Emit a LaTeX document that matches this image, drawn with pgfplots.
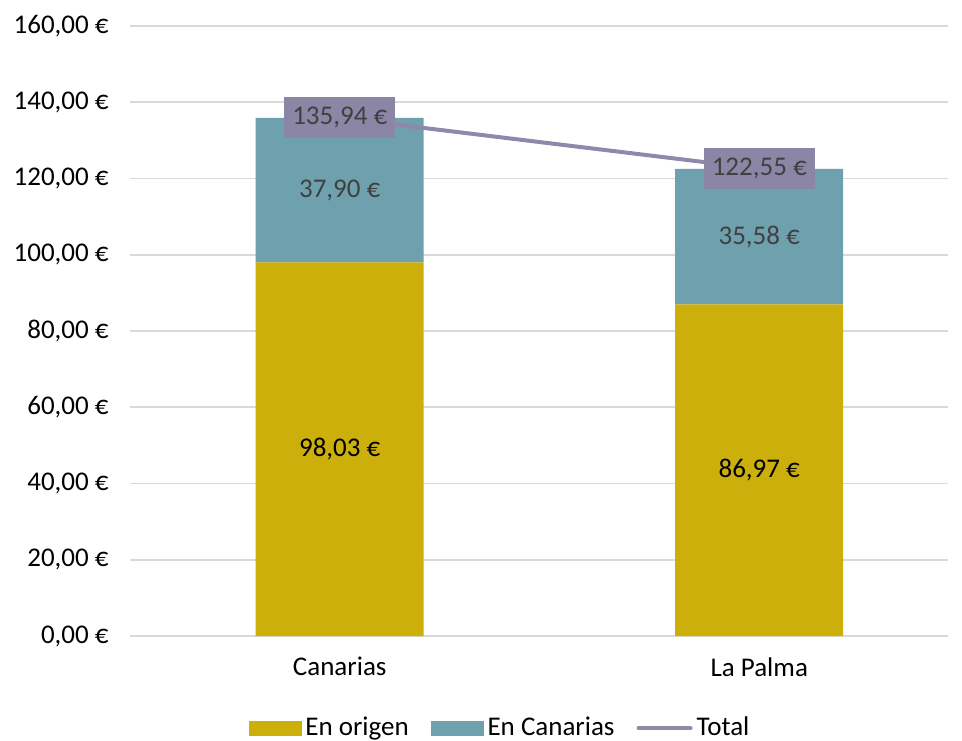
\documentclass[border=0pt]{standalone}
\usepackage{pgfplots}
\pgfplotsset{compat=1.18}
\usepackage{fontspec}
\setmainfont{Carlito}
\definecolor{origen}{HTML}{CCAF0A}
\definecolor{canarias}{HTML}{6FA0AE}
\definecolor{totline}{HTML}{8E89AB}
\definecolor{totbox}{HTML}{8B86A6}
\definecolor{labgray}{HTML}{404040}
\definecolor{gridc}{HTML}{D9D9D9}

\pgfplotsset{
  common/.style={
    scale only axis, width=409pt, height=305pt,
    at={(0,0)}, anchor=south west,
    xmin=-0.5, xmax=1.45, ymin=0, ymax=160,
  },
}

\begin{document}
\fontsize{13.5pt}{16pt}\selectfont
\begin{tikzpicture}
\useasboundingbox (-65pt,-52pt) rectangle (416pt,318pt);
% bars
\begin{axis}[common,
  ybar stacked, bar width=84pt,
  axis x line*=bottom, axis y line*=left,
  x axis line style={gridc, line width=0.8pt, -},
  y axis line style={draw=none},
  ymajorgrids, grid style={gridc, line width=0.8pt},
  ytick={0,20,...,160},
  xtick={0,1}, xticklabels={Canarias, La Palma},
  major tick length=0pt,
  xticklabel style={yshift=-6pt},
  yticklabel style={xshift=-6pt},
  yticklabel={\pgfmathprintnumber[assume math mode=true,fixed,fixed zerofill,precision=2,use comma]{\tick}~€},
]
\addplot[fill=origen, draw=none] coordinates {(0,98.03) (1,86.97)};
\addplot[fill=canarias, draw=none] coordinates {(0,37.90) (1,35.58)};
\end{axis}
% total line and labels
\begin{axis}[common,
  axis lines=none, ticks=none,
  clip=false,
  legend style={at={(0.4535,-0.151)}, anchor=center, draw=none,
    legend columns=3, fill=none,
    /tikz/every even column/.append style={column sep=9pt}},
]
\addlegendimage{legend image code/.code={\fill[origen] (0pt,-3.5pt) rectangle (26pt,3.5pt);}}
\addlegendentry{En origen}
\addlegendimage{legend image code/.code={\fill[canarias] (0pt,-3.5pt) rectangle (26pt,3.5pt);}}
\addlegendentry{En Canarias}
\addlegendimage{legend image code/.code={\draw[totline, line width=2pt, line cap=round] (0pt,0pt) -- (26pt,0pt);}}
\addlegendentry{Total}
\addplot[totline, line width=2pt, mark=none, forget plot,
  nodes near coords, point meta=explicit symbolic,
  nodes near coords style={fill=totbox, text=labgray, anchor=center,
    minimum height=20.5pt, inner xsep=4pt}]
  coordinates {(0,135.94)[135,94 €] (1,122.55)[122,55 €]};
\addplot[draw=none, mark=none, forget plot,
  nodes near coords, point meta=explicit symbolic,
  nodes near coords style={anchor=center, text=black}]
  coordinates {(0,49.015)[98,03 €] (1,43.485)[86,97 €]};
\addplot[draw=none, mark=none, forget plot,
  nodes near coords, point meta=explicit symbolic,
  nodes near coords style={anchor=center, text=labgray}]
  coordinates {(0,116.98)[37,90 €] (1,104.76)[35,58 €]};
\end{axis}
\end{tikzpicture}
\end{document}
